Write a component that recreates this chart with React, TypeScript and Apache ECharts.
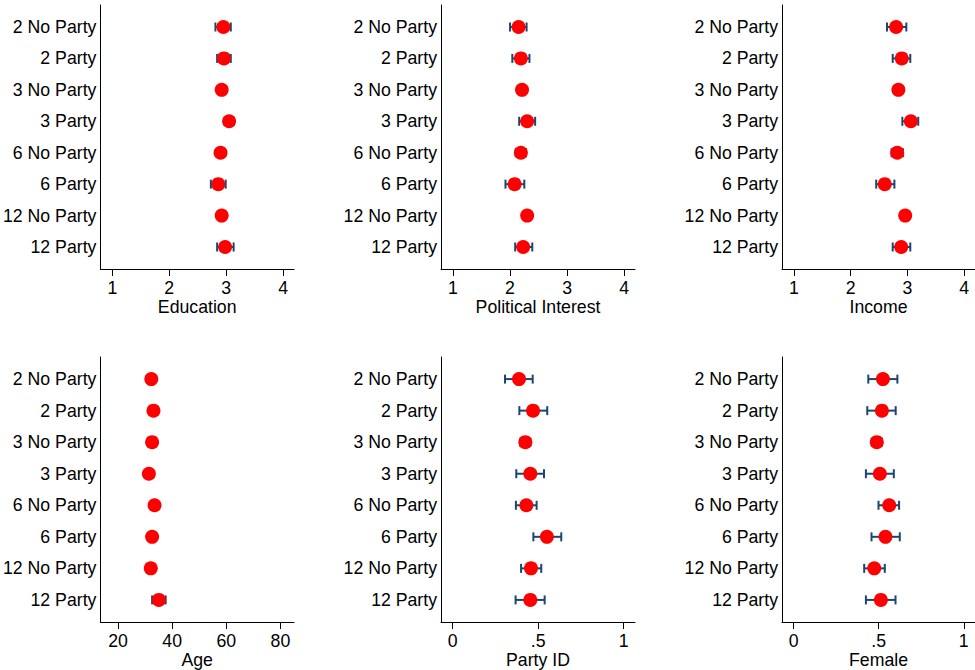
import React, { useEffect, useRef } from "react";
import * as echarts from "echarts";

const categories = ["2 No Party", "2 Party", "3 No Party", "3 Party", "6 No Party", "6 Party", "12 No Party", "12 Party"];

const educationMean = [2.95, 2.96, 2.92, 3.05, 2.9, 2.86, 2.92, 2.98];
const educationLo = [2.81, 2.84, 2.86, 2.97, 2.84, 2.73, 2.86, 2.84];
const educationHi = [3.08, 3.08, 2.99, 3.13, 2.96, 2.99, 2.98, 3.13];

const interestMean = [2.15, 2.19, 2.21, 2.3, 2.19, 2.08, 2.3, 2.23];
const interestLo = [2.0, 2.04, 2.15, 2.16, 2.1, 1.92, 2.24, 2.09];
const interestHi = [2.29, 2.34, 2.27, 2.44, 2.28, 2.25, 2.36, 2.39];

const incomeMean = [2.8, 2.9, 2.84, 3.06, 2.82, 2.6, 2.96, 2.89];
const incomeLo = [2.64, 2.74, 2.77, 2.91, 2.72, 2.45, 2.89, 2.74];
const incomeHi = [2.98, 3.05, 2.91, 3.19, 2.92, 2.77, 3.03, 3.05];

const ageMean = [32.3, 33.1, 32.6, 31.4, 33.5, 32.6, 32.1, 35.1];
const ageLo = [31.3, 31.6, 31.6, 30.4, 32.5, 31.6, 31.1, 32.6];
const ageHi = [33.3, 34.6, 33.6, 32.4, 34.5, 33.6, 33.1, 37.6];

const partyMean = [0.388, 0.47, 0.425, 0.454, 0.431, 0.551, 0.458, 0.454];
const partyLo = [0.306, 0.39, 0.395, 0.372, 0.37, 0.472, 0.4, 0.368];
const partyHi = [0.468, 0.553, 0.455, 0.534, 0.491, 0.635, 0.518, 0.538];

const femaleMean = [0.525, 0.519, 0.489, 0.507, 0.562, 0.54, 0.474, 0.513];
const femaleLo = [0.439, 0.433, 0.459, 0.425, 0.499, 0.458, 0.415, 0.425];
const femaleHi = [0.61, 0.6, 0.519, 0.589, 0.62, 0.624, 0.536, 0.599];

const ticks14 = [1, 2, 3, 4];
const ticksAge = [20, 40, 60, 80];
const ticks01 = [0, 0.5, 1];

const panels = [
  { name: "Education", mean: educationMean, lo: educationLo, hi: educationHi, ticks: ticks14, min: 0.79, max: 4.19 },
  { name: "Political Interest", mean: interestMean, lo: interestLo, hi: interestHi, ticks: ticks14, min: 0.79, max: 4.19 },
  { name: "Income", mean: incomeMean, lo: incomeLo, hi: incomeHi, ticks: ticks14, min: 0.79, max: 4.19 },
  { name: "Age", mean: ageMean, lo: ageLo, hi: ageHi, ticks: ticksAge, min: 13.5, max: 85 },
  { name: "Party ID", mean: partyMean, lo: partyLo, hi: partyHi, ticks: ticks01, min: -0.068, max: 1.066 },
  { name: "Female", mean: femaleMean, lo: femaleLo, hi: femaleHi, ticks: ticks01, min: -0.068, max: 1.066 },
];

const FONT = "'Liberation Sans', Arial, Helvetica, sans-serif";
const FS = 17.7;
const lefts = [100, 441, 782];
const tops = [5, 357];

function fmtTick(v: number) {
  if (v === 0.5) return ".5";
  return String(v);
}

export default function App() {
  const ref = useRef<HTMLDivElement>(null);
  useEffect(() => {
    if (!ref.current) return;
    const chart = echarts.init(ref.current, undefined, { renderer: "svg" });
    const grid: any[] = [];
    const xAxis: any[] = [];
    const yAxis: any[] = [];
    const series: any[] = [];
    panels.forEach((p, i) => {
      const col = i % 3;
      const row = Math.floor(i / 3);
      grid.push({ left: lefts[col], top: tops[row], width: 194, height: row === 0 ? 264 : 265 });
      xAxis.push({
        type: "value",
        gridIndex: i,
        min: p.min,
        max: p.max,
        name: p.name,
        nameLocation: "middle",
        nameGap: 27,
        nameTextStyle: { fontSize: FS, color: "#000", fontFamily: FONT },
        axisLine: { show: true, onZero: false, lineStyle: { color: "#000", width: 1 } },
        axisTick: { show: true, length: 7, customValues: p.ticks, lineStyle: { color: "#000" } },
        axisLabel: {
          customValues: p.ticks,
          formatter: (v: number) => fmtTick(v),
          fontSize: FS,
          color: "#000",
          fontFamily: FONT,
          margin: 10,
        },
        splitLine: { show: false },
      });
      yAxis.push({
        type: "value",
        gridIndex: i,
        inverse: true,
        min: 0.3,
        max: 8.7,
        axisLine: { show: true, onZero: false, lineStyle: { color: "#000", width: 1 } },
        axisTick: { show: false },
        axisLabel: {
          customValues: [1, 2, 3, 4, 5, 6, 7, 8],
          formatter: (v: number) => categories[Math.round(v) - 1] ?? "",
          fontSize: FS,
          color: "#000",
          fontFamily: FONT,
          margin: 4,
        },
        splitLine: { show: false },
      });
      series.push({
        type: "custom",
        xAxisIndex: i,
        yAxisIndex: i,
        z: 1,
        encode: { x: [0, 1], y: 2 },
        data: p.lo.map((lo, k) => [lo, p.hi[k], k + 1]),
        renderItem: (params: any, api: any) => {
          const a = api.coord([api.value(0), api.value(2)]);
          const b = api.coord([api.value(1), api.value(2)]);
          const h = 4.5;
          const style = { stroke: "#1a476f", lineWidth: 2 };
          return {
            type: "group",
            children: [
              { type: "line", shape: { x1: a[0], y1: a[1], x2: b[0], y2: b[1] }, style },
              { type: "line", shape: { x1: a[0], y1: a[1] - h, x2: a[0], y2: a[1] + h }, style },
              { type: "line", shape: { x1: b[0], y1: b[1] - h, x2: b[0], y2: b[1] + h }, style },
            ],
          };
        },
      });
      series.push({
        type: "scatter",
        xAxisIndex: i,
        yAxisIndex: i,
        z: 2,
        symbol: "circle",
        symbolSize: 14,
        itemStyle: { color: "#ff0000", opacity: 1 },
        data: p.mean.map((m, k) => [m, k + 1]),
      });
    });
    chart.setOption({
      animation: false,
      backgroundColor: "#ffffff",
      grid,
      xAxis,
      yAxis,
      series,
    });
    return () => chart.dispose();
  }, []);
  return (
    <div
      ref={ref}
      style={{ position: "fixed", left: 0, top: 0, width: 975, height: 670, background: "#fff" }}
    />
  );
}
